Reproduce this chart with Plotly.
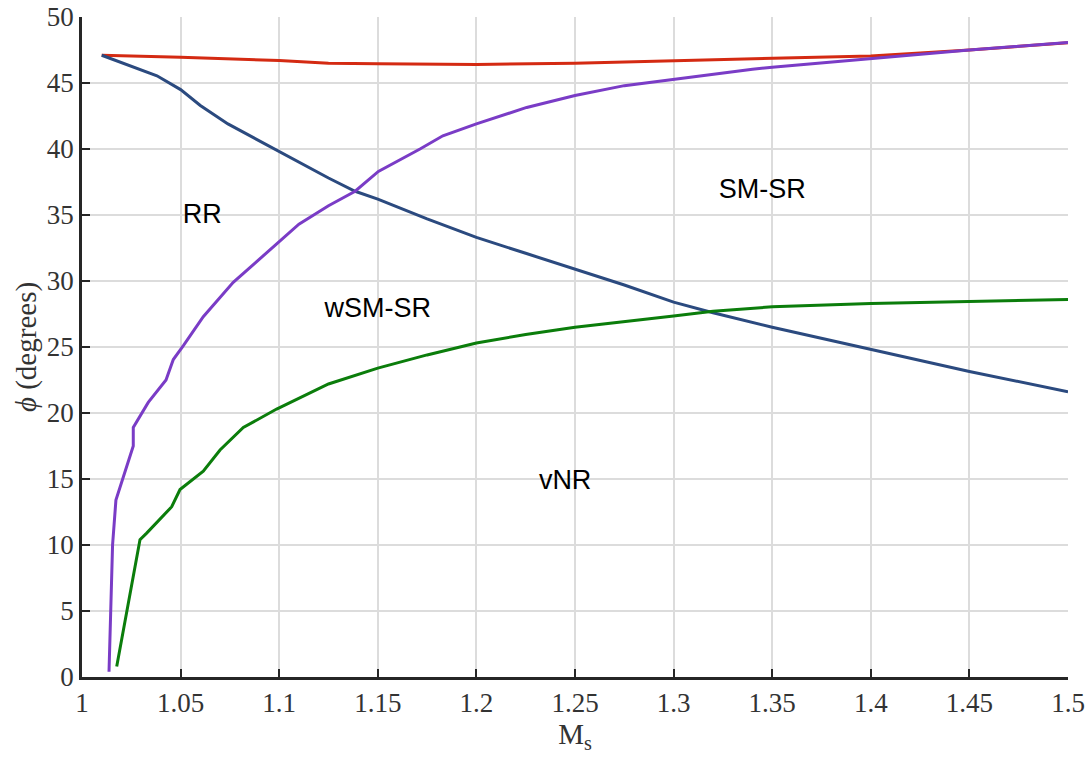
import plotly.graph_objects as go

# Boundary curves (Mach number Ms vs. wedge angle phi in degrees)
red_ms = [1.01, 1.05, 1.10, 1.125, 1.15, 1.20, 1.25, 1.30, 1.35, 1.40, 1.45, 1.50]
red_phi = [47.1, 46.95, 46.7, 46.5, 46.45, 46.4, 46.5, 46.7, 46.85, 47.05, 47.5, 48.05]

blue_ms = [1.01, 1.025, 1.038, 1.05, 1.06, 1.074, 1.09, 1.11, 1.125, 1.1385, 1.15,
           1.175, 1.20, 1.225, 1.25, 1.275, 1.30, 1.32, 1.35, 1.40, 1.45, 1.50]
blue_phi = [47.1, 46.3, 45.55, 44.5, 43.3, 41.9, 40.6, 39.0, 37.8, 36.8, 36.2,
            34.7, 33.3, 32.1, 30.9, 29.7, 28.4, 27.6, 26.5, 24.8, 23.15, 21.6]

purple_ms = [1.0137, 1.0145, 1.0155, 1.0172, 1.026, 1.026, 1.0336, 1.0426, 1.0463,
             1.0514, 1.0615, 1.0767, 1.0953, 1.11, 1.125, 1.1385, 1.1503, 1.1714,
             1.183, 1.20, 1.2255, 1.25, 1.275, 1.30, 1.34, 1.35, 1.40, 1.45, 1.50]
purple_phi = [0.4, 5.0, 10.0, 13.4, 17.5, 18.9, 20.8, 22.5, 24.05,
              25.1, 27.3, 29.9, 32.4, 34.3, 35.7, 36.8, 38.3, 40.0,
              41.0, 41.9, 43.15, 44.05, 44.8, 45.3, 46.05, 46.2, 46.86, 47.5, 48.07]

green_ms = [1.0176, 1.0294, 1.0328, 1.0379, 1.0455, 1.0497, 1.0615, 1.07, 1.0818,
            1.0987, 1.1156, 1.125, 1.15, 1.175, 1.20, 1.225, 1.25, 1.275, 1.30,
            1.32, 1.35, 1.40, 1.45, 1.50]
green_phi = [0.8, 10.4, 10.9, 11.7, 12.9, 14.2, 15.6, 17.2, 18.9,
             20.3, 21.5, 22.2, 23.4, 24.4, 25.3, 25.95, 26.5, 26.9, 27.35,
             27.7, 28.05, 28.3, 28.45, 28.6]

# Region labels
region_names = ["RR", "SM-SR", "wSM-SR", "vNR"]
region_ms = [1.061, 1.345, 1.150, 1.245]
region_phi = [34.9, 36.8, 27.8, 14.75]

x_ticks = [1, 1.05, 1.1, 1.15, 1.2, 1.25, 1.3, 1.35, 1.4, 1.45, 1.5]
x_tick_text = ["1", "1.05", "1.1", "1.15", "1.2", "1.25", "1.3", "1.35", "1.4", "1.45", "1.5"]
y_ticks = [0, 5, 10, 15, 20, 25, 30, 35, 40, 45, 50]

fig = go.Figure()

curves = [
    (red_ms, red_phi, "#d42a12"),
    (blue_ms, blue_phi, "#2b4a7f"),
    (purple_ms, purple_phi, "#7a3cc6"),
    (green_ms, green_phi, "#0b7d0b"),
]
for xs, ys, col in curves:
    fig.add_trace(go.Scatter(x=xs, y=ys, mode="lines",
                             line=dict(color=col, width=3),
                             showlegend=False, hoverinfo="skip"))

fig.add_trace(go.Scatter(x=region_ms, y=region_phi, mode="text", text=region_names,
                         textfont=dict(family="Liberation Sans, Arial", size=27, color="black"),
                         showlegend=False, hoverinfo="skip"))

tick_font = dict(family="Liberation Serif, Times New Roman", size=27, color="#333333")
title_font = dict(family="Liberation Serif, Times New Roman", size=29, color="#333333")

fig.update_layout(
    width=1091, height=763,
    margin=dict(l=82, r=23, t=17, b=86),
    plot_bgcolor="white", paper_bgcolor="white",
    xaxis=dict(range=[1, 1.5], tickvals=x_ticks, ticktext=x_tick_text,
               automargin=False,
               showgrid=True, gridcolor="#dcdcdc", gridwidth=2,
               showline=True, linecolor="#262626", linewidth=2.5,
               ticks="inside", ticklen=8, tickwidth=2, tickcolor="#262626",
               tickfont=tick_font, zeroline=False,
               title=dict(text="M<sub>s</sub>", font=title_font, standoff=6)),
    yaxis=dict(range=[0, 50], tickvals=y_ticks,
               automargin=False,
               showgrid=True, gridcolor="#dcdcdc", gridwidth=2,
               showline=True, linecolor="#262626", linewidth=2.5,
               ticks="inside", ticklen=8, tickwidth=2, tickcolor="#262626",
               tickfont=tick_font, zeroline=False,
               title=dict(text="<i>ϕ</i> (degrees)", font=title_font, standoff=2)),
)

fig.write_html("out.html")
